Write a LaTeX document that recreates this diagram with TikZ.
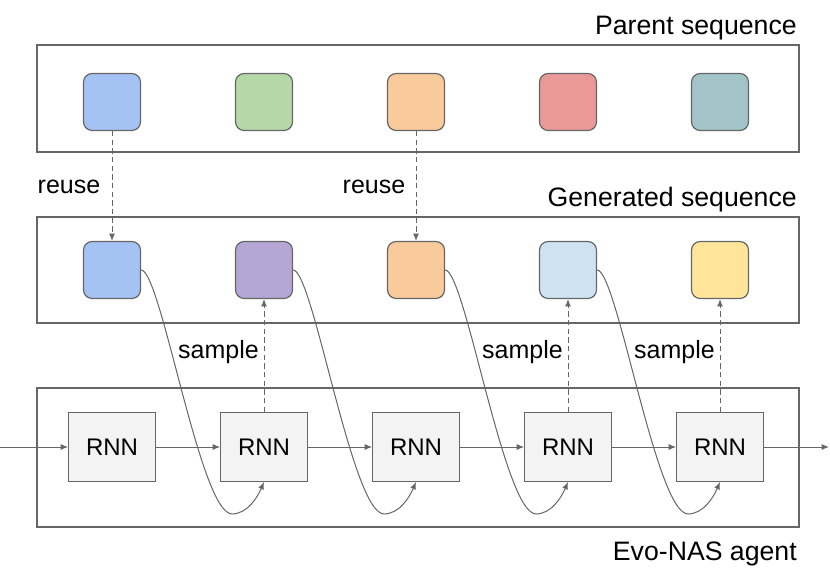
\documentclass[tikz,border=0pt]{standalone}
\usepackage{fontspec}
\setmainfont{Liberation Sans}
\usetikzlibrary{arrows.meta,calc}
\definecolor{edge}{HTML}{666666}
\definecolor{cBlue}{HTML}{A4C2F4}
\definecolor{cGreen}{HTML}{B6D7A8}
\definecolor{cOrange}{HTML}{F9CB9C}
\definecolor{cRed}{HTML}{EA9999}
\definecolor{cTeal}{HTML}{A2C4C9}
\definecolor{cPurple}{HTML}{B4A7D6}
\definecolor{cLBlue}{HTML}{CFE2F3}
\definecolor{cYellow}{HTML}{FFE599}
\definecolor{cRNN}{HTML}{F3F3F3}
\tikzset{
  frame/.style={draw=edge, line width=0.9pt},
  tok/.style={draw=edge, line width=0.9pt, rounded corners=6.5pt, minimum width=42.75pt, minimum height=42.75pt, inner sep=0pt},
  rnn/.style={draw=edge, line width=0.9pt, fill=cRNN, minimum width=65pt, minimum height=51.5pt, inner sep=0pt, font=\fontsize{18}{21}\selectfont},
  title/.style={anchor=base east, inner sep=0pt, font=\fontsize{20}{24}\selectfont},
  lbl/.style={inner sep=0pt, font=\fontsize{18.75}{22}\selectfont},
  arr/.style={draw=edge, line width=0.75pt, -{Latex[length=5.5pt,width=4.5pt]}},
  darr/.style={arr, dash pattern=on 4pt off 2.5pt},
}
\begin{document}
\begin{tikzpicture}[x=0.75pt,y=-0.75pt]
\useasboundingbox (0,0) rectangle (830,571);
% frames
\draw[frame] (37,45) rectangle (799,152);
\draw[frame] (37,217) rectangle (799,323);
\draw[frame] (37,388) rectangle (799,527);
% titles
\node[title] (tp) at (797,34.3) {Parent sequence};
\node[title] (tg) at (797,206) {Generated sequence};
\node[title] (ta) at (797,560.7) {Evo-NAS agent};
% parent tokens
\node[tok, fill=cBlue]   (p1) at (112,102) {};
\node[tok, fill=cGreen]  (p2) at (264,102) {};
\node[tok, fill=cOrange] (p3) at (416,102) {};
\node[tok, fill=cRed]    (p4) at (568,102) {};
\node[tok, fill=cTeal]   (p5) at (720,102) {};
% generated tokens
\node[tok, fill=cBlue]   (g1) at (112,270) {};
\node[tok, fill=cPurple] (g2) at (264,270) {};
\node[tok, fill=cOrange] (g3) at (416,270) {};
\node[tok, fill=cLBlue]  (g4) at (568,270) {};
\node[tok, fill=cYellow] (g5) at (720,270) {};
% RNNs
\node[rnn] (r1) at (112,447) {RNN};
\node[rnn] (r2) at (264,447) {RNN};
\node[rnn] (r3) at (416,447) {RNN};
\node[rnn] (r4) at (568,447) {RNN};
\node[rnn] (r5) at (720,447) {RNN};
\coordinate (in) at (0,447);
\coordinate (out) at (829,447);
% horizontal arrows
\draw[arr] (in) -- (r1.west);
\draw[arr] (r1.east) -- (r2.west);
\draw[arr] (r2.east) -- (r3.west);
\draw[arr] (r3.east) -- (r4.west);
\draw[arr] (r4.east) -- (r5.west);
\draw[arr] (r5.east) -- (out);
% reuse arrows
\draw[darr] (p1.south) -- (g1.north);
\draw[darr] (p3.south) -- (g3.north);
\node[lbl] (l1) at (69,186.5) {reuse};
\node[lbl] (l2) at (374,186.5) {reuse};
% sample arrows
\draw[darr] (r2.north) -- (g2.south);
\draw[darr] (r4.north) -- (g4.south);
\draw[darr] (r5.north) -- (g5.south);
\node[lbl, anchor=east] (s1) at (259,352) {sample};
\node[lbl, anchor=east] (s2) at (563,352) {sample};
\node[lbl, anchor=east] (s3) at (715,352) {sample};
% curved connectors
\foreach \a/\b in {g1/r2, g2/r3, g3/r4, g4/r5}{
  \draw[arr] (\a.east) .. controls +(20,0) and +(-32,0) .. ($(\b.south)+(-32,32)$)
    .. controls +(16,0) and +(-6,14) .. (\b.south);
}
\end{tikzpicture}
\end{document}
